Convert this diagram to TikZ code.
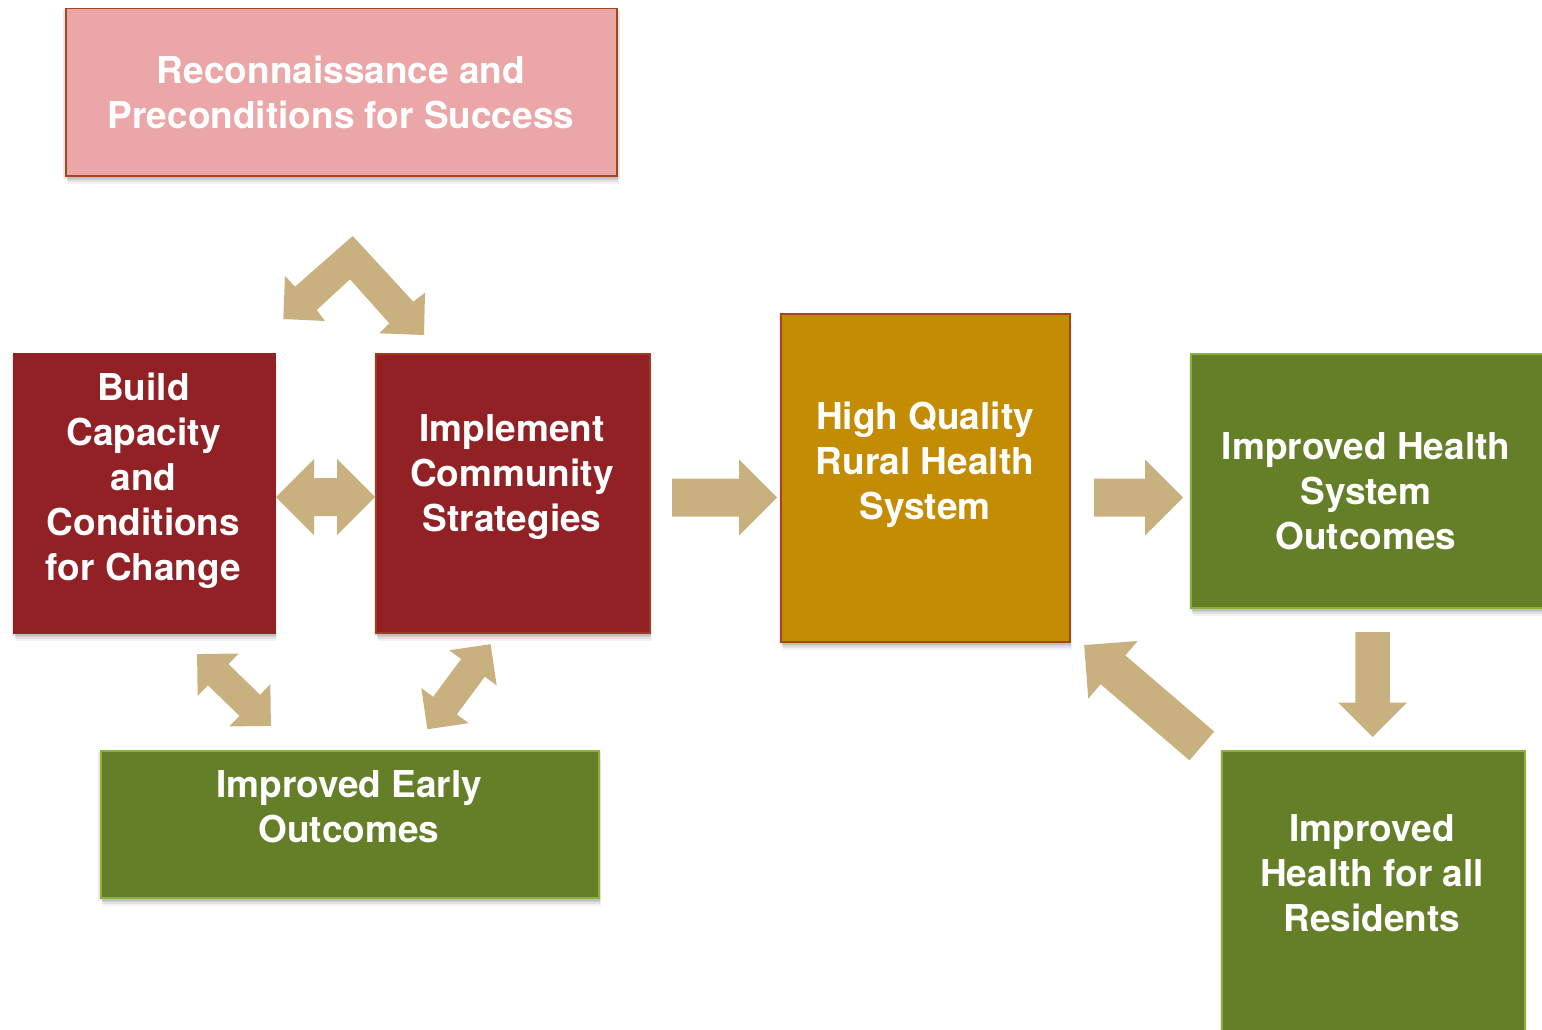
\documentclass[tikz,border=0pt]{standalone}
\usepackage{fontspec}
\setmainfont{TeX Gyre Heros}
\usetikzlibrary{shadows}

\definecolor{reconpink}{HTML}{EBA6A8}
\definecolor{rustedge}{HTML}{A3461F}
\definecolor{buildred}{HTML}{922125}
\definecolor{systemgold}{HTML}{C48C03}
\definecolor{outcomegreen}{HTML}{657F28}
\definecolor{greenedge}{HTML}{8AB13C}
\definecolor{arrowtan}{HTML}{C8B17E}

% block arrows: centre, angle, length, shaft width
\newcommand{\fatarrow}[4]{%
  \fill[arrowtan, shift={(#1)}, rotate=#2]
    (-#3/2,-#4/2) -- (#3/2-#4,-#4/2) -- (#3/2-#4,-#4) -- (#3/2,0)
    -- (#3/2-#4,#4) -- (#3/2-#4,#4/2) -- (-#3/2,#4/2) -- cycle;}
\newcommand{\twowayarrow}[4]{%
  \fill[arrowtan, shift={(#1)}, rotate=#2]
    (-#3/2,0) -- (-#3/2+#4,#4) -- (-#3/2+#4,#4/2) -- (#3/2-#4,#4/2)
    -- (#3/2-#4,#4) -- (#3/2,0) -- (#3/2-#4,-#4) -- (#3/2-#4,-#4/2)
    -- (-#3/2+#4,-#4/2) -- (-#3/2+#4,-#4) -- cycle;}

\tikzset{
  box/.style={rectangle, draw, line width=1.5pt, anchor=north west, inner sep=0pt,
    drop shadow={shadow xshift=0pt, shadow yshift=-2pt, shadow scale=1.01, opacity=.08, fill=black},
    drop shadow={shadow xshift=1pt, shadow yshift=-4pt, opacity=.08, fill=black},
    drop shadow={shadow xshift=1pt, shadow yshift=-6pt, opacity=.07, fill=black},
    drop shadow={shadow xshift=2pt, shadow yshift=-8pt, opacity=.05, fill=black}},
  boxtext/.style={text=white, align=center, inner sep=0pt,
    font=\fontsize{37}{45}\selectfont\bfseries},
}

\begin{document}
\begin{tikzpicture}[x=1pt, y=-1pt]
  \useasboundingbox (0,0) rectangle (1542,1030);

  % boxes
  \node[box, fill=reconpink, draw=rustedge, minimum width=551pt, minimum height=167pt] (recon) at (65,8) {};
  \node[box, fill=buildred, draw=buildred, minimum width=261pt, minimum height=279pt] (build) at (13,353) {};
  \node[box, fill=buildred, draw=rustedge!70!buildred, minimum width=274pt, minimum height=279pt] (impl) at (375,353) {};
  \node[box, fill=systemgold, draw=rustedge, minimum width=289pt, minimum height=328pt] (hq) at (780,313) {};
  \node[box, fill=outcomegreen, draw=greenedge, minimum width=356pt, minimum height=254pt] (hso) at (1190,353) {};
  \node[box, fill=outcomegreen, draw=greenedge, minimum width=303pt, minimum height=292pt] (res) at (1221,750) {};
  \node[box, fill=outcomegreen, draw=greenedge, minimum width=498pt, minimum height=147pt] (early) at (100,750) {};

  % labels
  \node[boxtext] (recon-t) at (341,92.5) {Reconnaissance and\\Preconditions for Success};
  \node[boxtext] (build-t) at (143.5,480.5) {Build\\Capacity\\and\\Conditions\\for Change};
  \node[boxtext] (impl-t) at (512,477) {Implement\\Community\\Strategies};
  \node[boxtext] (hq-t) at (925,465) {High Quality\\Rural Health\\System};
  \node[boxtext] (hso-t) at (1366,491) {Improved Health\\System\\Outcomes};
  \node[boxtext] (res-t) at (1372,873.5) {Improved\\Health for all\\Residents};
  \node[boxtext] (early-t) at (349,806.5) {Improved Early\\Outcomes};

  % bent two-way arrow under the top box
  \fill[arrowtan] (283.3,319) -- (285,276) -- (295,286.7) -- (352.7,236)
    -- (413.3,301.7) -- (425,292.7) -- (424,335) -- (379.3,333.3)
    -- (389.3,323.3) -- (350,279.3) -- (316.7,310) -- (325,321) -- cycle;

  % straight arrows
  \twowayarrow{325.5,497}{0}{99}{38}
  \fatarrow{724.5,497.5}{0}{105}{38}
  \fatarrow{1138.5,497.5}{0}{89}{38}
  \fatarrow{1372.5,684.5}{-90}{105}{34.5}
  \fatarrow{1143,695.5}{139.4}{155}{38}
  \twowayarrow{234,690}{-44.2}{103}{29.5}
  \twowayarrow{459,686.7}{53.4}{106}{29.5}
\end{tikzpicture}
\end{document}
